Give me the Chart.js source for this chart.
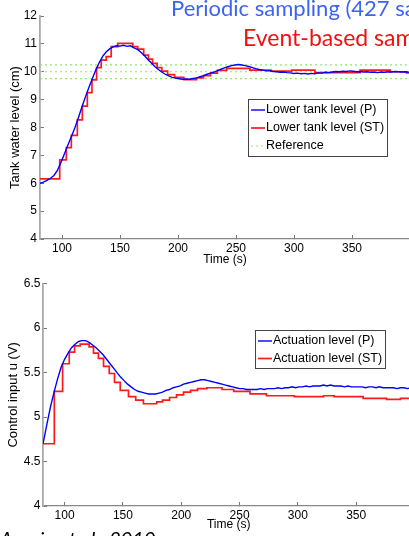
<!DOCTYPE html>
<html>
<head>
<meta charset="utf-8">
<script src="https://cdn.jsdelivr.net/npm/chart.js@4.4.1/dist/chart.umd.min.js"></script>
<style>
  html, body { margin: 0; padding: 0; background: #fff; }
  body { width: 409px; height: 536px; overflow: hidden; position: relative; }
  canvas { position: absolute; left: 0; }
  #levelChart { top: 0; }
  #inputChart { top: 270px; }
  .note { position: absolute; white-space: nowrap; font-family: Lato, "Open Sans", sans-serif; font-size: 22px; line-height: 22px; }
  #noteP { left: 171px; top: -3px; color: #3d63f5; }
  #noteST { left: 243px; top: 26px; font-size: 23px; color: #f01010; }
  #cite { left: 0; top: 528px; font-size: 20px; line-height: 20px; font-style: italic; color: #000; }
</style>
</head>
<body>
<canvas id="levelChart" width="411" height="268"></canvas>
<canvas id="inputChart" width="416" height="266"></canvas>
<div class="note" id="noteP">Periodic sampling (427 samples)</div>
<div class="note" id="noteST">Event-based sampling</div>
<div class="note" id="cite">Araujo et al., 2010</div>
<script>
// upper plot: lower tank level, periodic (P) and self-triggered (ST)
const timeTop = [
  81, 84, 87, 90, 93, 96, 99, 102, 105, 108,
  111, 114, 117, 120, 123, 126, 129, 132, 135, 138,
  141, 144, 147, 150, 153, 156, 159, 162, 165, 168,
  171, 174, 177, 180, 183, 186, 189, 192, 195, 198,
  201, 204, 207, 210, 213, 216, 219, 222, 225, 228,
  231, 234, 237, 240, 243, 246, 249, 252, 255, 258,
  261, 264, 267, 270, 273, 276, 279, 282, 285, 288,
  291, 294, 297, 300, 303, 306, 309, 312, 315, 318,
  321, 324, 327, 330, 333, 336, 339, 342, 345, 348,
  351, 354, 357, 360, 363, 366, 369, 372, 375, 378,
  381, 384, 387, 390, 393, 396, 399
];
const levelP = [
  6.00, 6.04, 6.10, 6.18, 6.28, 6.46, 6.74, 7.05, 7.36, 7.67,
  7.98, 8.34, 8.72, 9.08, 9.42, 9.74, 10.05, 10.32, 10.55, 10.71,
  10.82, 10.89, 10.93, 10.92, 10.95, 10.91, 10.93, 10.86, 10.80, 10.70,
  10.58, 10.44, 10.31, 10.19, 10.08, 9.99, 9.91, 9.85, 9.80, 9.77,
  9.75, 9.73, 9.74, 9.73, 9.76, 9.78, 9.82, 9.86, 9.91, 9.95,
  9.99, 10.04, 10.09, 10.14, 10.18, 10.22, 10.24, 10.26, 10.24, 10.22,
  10.19, 10.15, 10.11, 10.08, 10.06, 10.03, 10.04, 10.01, 10.00, 9.98,
  9.99, 9.97, 9.96, 9.94, 9.95, 9.93, 9.94, 9.92, 9.94, 9.93,
  9.96, 9.95, 9.98, 9.97, 9.99, 10.01, 10.00, 10.02, 10.01, 10.03,
  10.02, 10.00, 10.01, 9.99, 10.00, 9.98, 9.99, 9.97, 9.99, 9.98,
  10.00, 9.99, 10.01, 10.00, 9.99, 10.00, 9.98
];
const stepTimeTop = [
  81, 98, 103.7, 108, 113.2, 117.5, 121.8, 125.8, 129.8, 133.8,
  138.1, 142.4, 148, 161, 165.3, 170.4, 174.5, 178, 182, 186,
  191, 197, 205, 216, 222, 228, 234, 242, 262, 280,
  298, 318, 357, 383, 397, 400
];
const levelST = [
  6.16, 6.84, 7.28, 7.72, 8.27, 8.77, 9.25, 9.71, 10.15, 10.42,
  10.54, 10.90, 11.02, 10.90, 10.81, 10.60, 10.45, 10.30, 10.15, 10.02,
  9.90, 9.80, 9.72, 9.78, 9.86, 9.95, 10.05, 10.12, 10.06, 10.02,
  10.06, 9.97, 10.06, 10.00, 9.96, 9.96
];
const refLevels = [9.75, 10, 10.25];

// lower plot: control input u
const timeBottom = [
  81.5, 85, 88, 91, 94, 97, 100, 103, 106, 109,
  112, 115, 118, 121, 124, 127, 130, 133, 136, 139,
  142, 145, 148, 151, 154, 157, 160, 163, 166, 169,
  172, 175, 178, 181, 184, 187, 190, 193, 196, 199,
  202, 205, 208, 211, 214, 217, 220, 223, 226, 229,
  232, 235, 238, 241, 244, 247, 250, 253, 256, 259,
  262, 265, 268, 271, 274, 277, 280, 283, 286, 289,
  292, 295, 298, 301, 304, 307, 310, 313, 316, 319,
  322, 325, 328, 331, 334, 337, 340, 343, 346, 349,
  352, 355, 358, 361, 364, 367, 370, 373, 376, 379,
  382, 385, 388, 391, 394, 397, 400
];
const inputP = [
  4.70, 4.93, 5.12, 5.28, 5.43, 5.56, 5.65, 5.72, 5.78, 5.82,
  5.85, 5.86, 5.86, 5.84, 5.81, 5.78, 5.74, 5.70, 5.65, 5.60,
  5.55, 5.50, 5.45, 5.41, 5.37, 5.34, 5.31, 5.29, 5.28, 5.27,
  5.26, 5.26, 5.26, 5.27, 5.28, 5.30, 5.31, 5.33, 5.34, 5.35,
  5.37, 5.38, 5.39, 5.40, 5.41, 5.42, 5.42, 5.41, 5.40, 5.39,
  5.38, 5.37, 5.36, 5.35, 5.34, 5.33, 5.32, 5.32, 5.31, 5.31,
  5.31, 5.31, 5.32, 5.31, 5.32, 5.32, 5.32, 5.33, 5.32, 5.33,
  5.33, 5.34, 5.33, 5.34, 5.34, 5.35, 5.34, 5.35, 5.35, 5.35,
  5.36, 5.35, 5.36, 5.35, 5.35, 5.35, 5.34, 5.35, 5.34, 5.34,
  5.34, 5.34, 5.33, 5.34, 5.34, 5.33, 5.34, 5.33, 5.33, 5.33,
  5.33, 5.32, 5.33, 5.33, 5.32, 5.33, 5.33
];
const stepTimeBottom = [
  81.5, 91.2, 98.3, 104, 108.6, 113.4, 121, 124.8, 129, 133.4,
  138.3, 142.8, 147.7, 154.8, 161, 167.6, 179, 184, 190, 196,
  202, 208, 214, 222, 235, 245, 259, 273, 297, 322,
  331, 356, 376, 388, 400
];
const inputST = [
  4.70, 5.29, 5.60, 5.73, 5.80, 5.82, 5.79, 5.72, 5.66, 5.57,
  5.49, 5.39, 5.30, 5.23, 5.19, 5.15, 5.17, 5.19, 5.22, 5.25,
  5.28, 5.30, 5.32, 5.33, 5.31, 5.29, 5.26, 5.24, 5.23, 5.24,
  5.23, 5.21, 5.20, 5.21, 5.21
];

const xTicks = [100, 150, 200, 250, 300, 350];
const yTicksTop = [4, 5, 6, 7, 8, 9, 10, 11, 12];
const yTicksBottom = [4, 4.5, 5, 5.5, 6, 6.5];

Chart.defaults.font.family = '"Liberation Sans", Arial, sans-serif';
Chart.defaults.font.size = 12;
Chart.defaults.color = '#000';

function pairs(xs, ys) {
  return xs.map((x, i) => ({ x: x, y: ys[i] }));
}

// legend box drawn inside the plot, MATLAB style
const boxLegend = {
  id: 'boxLegend',
  afterDraw(chart, args, opts) {
    const ctx = chart.ctx;
    const [x0, y0, w, h] = opts.box;
    ctx.save();
    ctx.fillStyle = '#fff';
    ctx.fillRect(x0, y0, w, h);
    ctx.strokeStyle = '#444';
    ctx.lineWidth = 1;
    ctx.strokeRect(x0 + 0.5, y0 + 0.5, w, h);
    ctx.font = '12.5px "Liberation Sans", Arial, sans-serif';
    ctx.textBaseline = 'middle';
    chart.data.datasets.filter(d => d.label).forEach((d, i) => {
      const y = y0 + opts.firstRow + i * opts.rowGap;
      ctx.beginPath();
      ctx.strokeStyle = d.borderColor;
      ctx.lineWidth = d.borderWidth;
      ctx.setLineDash(d.borderDash || []);
      ctx.moveTo(x0 + 3, y);
      ctx.lineTo(x0 + 17, y);
      ctx.stroke();
      ctx.setLineDash([]);
      ctx.fillStyle = '#000';
      ctx.fillText(d.label, x0 + 18, y);
    });
    ctx.restore();
  }
};

function axes(xMin, xMax, yMin, yMax, yTicks, yTitle, geo) {
  return {
    x: {
      type: 'linear', min: xMin, max: xMax,
      afterBuildTicks: s => { s.ticks = xTicks.map(v => ({ value: v })); },
      afterFit: s => { s.height = geo.xHeight; },
      ticks: { padding: 6.5, maxRotation: 0, callback: v => String(v) },
      grid: { display: true, drawOnChartArea: false, drawTicks: true, tickLength: -4, color: '#777' },
      border: { display: true, color: '#888', width: 1.2 },
      title: { display: true, text: 'Time (s)', font: { size: 12 }, padding: { top: 0, bottom: geo.xTitlePad } }
    },
    y: {
      type: 'linear', min: yMin, max: yMax,
      afterBuildTicks: s => { s.ticks = yTicks.map(v => ({ value: v })); },
      afterFit: s => { s.width = geo.yWidth; },
      ticks: { padding: geo.yTickPad, callback: v => String(v) },
      grid: { display: true, drawOnChartArea: false, drawTicks: true, tickLength: -4, color: '#777' },
      border: { display: true, color: '#aaa', width: 1.8 },
      title: { display: true, text: yTitle, font: { size: 13 }, padding: { top: geo.yTitlePad, bottom: 0 } }
    }
  };
}

const refStyle = { borderColor: '#8fe86c', borderWidth: 1.2, borderDash: [2, 3] };

new Chart(document.getElementById('levelChart'), {
  type: 'line',
  data: {
    datasets: [
      { label: 'Lower tank level (P)', data: pairs(timeTop, levelP), borderColor: '#0000ff', borderWidth: 1.4 },
      { label: 'Lower tank level (ST)', data: pairs(stepTimeTop, levelST), borderColor: '#ff1a1a', borderWidth: 1.7, stepped: true },
      ...refLevels.map((r, i) => Object.assign({
        label: i === 0 ? 'Reference' : undefined,
        data: [{ x: 81, y: r }, { x: 400, y: r }]
      }, refStyle))
    ]
  },
  options: {
    responsive: false, animation: false, devicePixelRatio: 1,
    elements: { point: { radius: 0 }, line: { tension: 0 } },
    layout: { padding: { top: 16, right: 1, left: 0, bottom: 0 } },
    plugins: {
      legend: { display: false }, tooltip: { enabled: false },
      boxLegend: { box: [248, 99, 139, 57], firstRow: 11, rowGap: 18 }
    },
    scales: axes(81, 400, 4, 12, yTicksTop, 'Tank water level (cm)',
      { xHeight: 29, xTitlePad: 1, yWidth: 40, yTickPad: 7, yTitlePad: 8 })
  },
  plugins: [boxLegend]
});

new Chart(document.getElementById('inputChart'), {
  type: 'line',
  data: {
    datasets: [
      { label: 'Actuation level (P)', data: pairs(timeBottom, inputP), borderColor: '#0000ff', borderWidth: 1.4 },
      { label: 'Actuation level (ST)', data: pairs(stepTimeBottom, inputST), borderColor: '#ff1a1a', borderWidth: 1.7, stepped: true }
    ]
  },
  options: {
    responsive: false, animation: false, devicePixelRatio: 1,
    elements: { point: { radius: 0 }, line: { tension: 0 } },
    layout: { padding: { top: 13, right: 1.5, left: 0, bottom: 0 } },
    plugins: {
      legend: { display: false }, tooltip: { enabled: false },
      boxLegend: { box: [255, 60, 130, 38], firstRow: 11, rowGap: 17.5 }
    },
    scales: axes(81.5, 400, 4, 6.5, yTicksBottom, 'Control input u (V)',
      { xHeight: 30, xTitlePad: 4, yWidth: 43, yTickPad: 6.5, yTitlePad: 5.5 })
  },
  plugins: [boxLegend]
});
</script>
</body>
</html>
